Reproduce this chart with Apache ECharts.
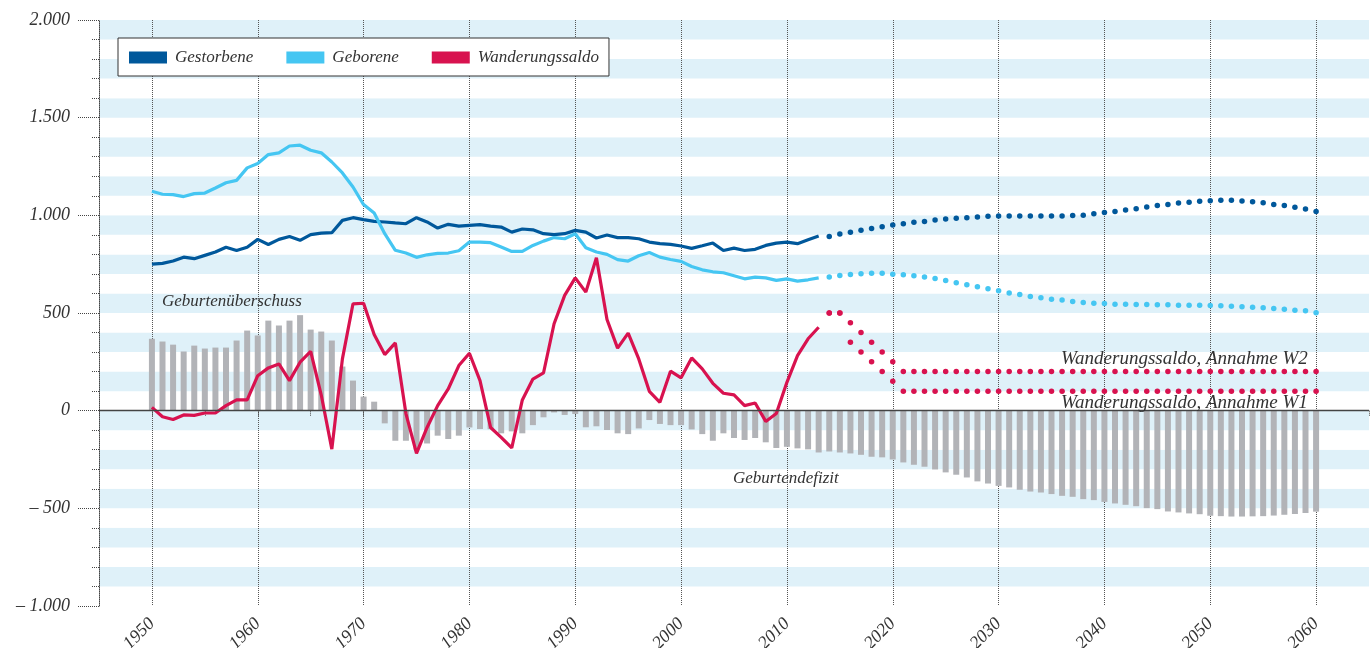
<!DOCTYPE html>
<html>
<head>
<meta charset="utf-8">
<script src="https://cdn.jsdelivr.net/npm/echarts@6/dist/echarts.min.js"></script>
<style>
  html, body { margin: 0; padding: 0; background: #fff; }
  #chart { width: 1371px; height: 648px; }
</style>
</head>
<body>
<div id="chart"></div>
<script>
// Werte in Tausend
var startHist = 1950
var startProg = 2014

var gestorbene = [
  750, 754, 766, 786, 778, 795, 812, 837, 820, 837,
  877, 851, 877, 892, 872, 901, 909, 911, 974, 988,
  978, 969, 966, 961, 957, 988, 966, 935, 954, 945,
  949, 952, 945, 940, 914, 930, 926, 906, 901, 906,
  923, 914, 884, 899, 886, 886, 880, 863, 855, 851,
  843, 831, 844, 858, 820, 832, 820, 826, 846, 858,
  863, 855, 875, 894
]
var geborene = [
  1123, 1108, 1106, 1096, 1111, 1114, 1140, 1167, 1179, 1243,
  1265, 1311, 1320, 1355, 1359, 1333, 1320, 1273, 1217, 1145,
  1055, 1012, 906, 821, 807, 785, 798, 805, 807, 819,
  863, 863, 860, 838, 815, 815, 846, 868, 886, 880,
  906, 834, 812, 800, 773, 766, 793, 810, 786, 774,
  764, 738, 721, 711, 706, 691, 675, 684, 680, 667,
  675, 663, 670, 680
]
var wanderungssaldo = [
  17, -31, -45, -22, -24, -12, -12, 26, 55, 55,
  179, 219, 239, 154, 248, 304, 80, -197, 265, 547,
  550, 390, 287, 347, -15, -219, -86, 26, 111, 231,
  294, 154, -86, -137, -191, 55, 162, 193, 445, 590,
  680, 607, 783, 467, 320, 397, 265, 99, 43, 202,
  168, 270, 214, 140, 89, 81, 26, 39, -55, -14,
  145, 282, 368, 427
]
// Geburtenüberschuss / -defizit 1950-2060
var geburtensaldo = [
  368, 354, 338, 303, 333, 318, 323, 323, 359, 410,
  385, 461, 436, 461, 489, 415, 405, 359, 226, 154,
  72, 46, -65, -154, -154, -200, -168, -128, -145, -128,
  -86, -94, -95, -116, -106, -116, -74, -34, -9, -22,
  -17, -85, -80, -99, -116, -120, -91, -48, -68, -74,
  -74, -96, -120, -154, -116, -140, -150, -140, -162, -191,
  -185, -193, -198, -214, -209, -214, -219, -226, -236, -239,
  -250, -265, -277, -287, -301, -316, -328, -342, -362, -373,
  -385, -393, -405, -414, -419, -427, -436, -441, -453, -458,
  -467, -475, -482, -489, -499, -504, -516, -521, -526, -530,
  -538, -540, -542, -542, -541, -540, -537, -533, -529, -524,
  -517
]
// Vorausberechnung 2014-2060
var gestorbeneProg = [
  892, 904, 914, 923, 933, 942,
  950, 957, 964, 969, 976, 981, 985, 988, 991, 995,
  996, 996, 996, 996, 996, 996, 997, 999, 1001, 1008,
  1014, 1020, 1027, 1034, 1043, 1050, 1056, 1063, 1067, 1072,
  1075, 1077, 1077, 1073, 1070, 1065, 1056, 1050, 1041, 1032,
  1019
]
var geboreneProg = [
  684, 692, 697, 701, 703, 703,
  699, 696, 691, 684, 677, 667, 655, 644, 634, 624,
  614, 603, 595, 585, 578, 571, 566, 559, 554, 550,
  549, 545, 545, 544, 544, 542, 542, 540, 540, 540,
  538, 537, 535, 532, 530, 527, 523, 519, 514, 511,
  501
]
var wanderungW2 = [
  500, 500, 450, 400, 350, 300,
  250, 200, 200, 200, 200, 200, 200, 200, 200, 200,
  200, 200, 200, 200, 200, 200, 200, 200, 200, 200,
  200, 200, 200, 200, 200, 200, 200, 200, 200, 200,
  200, 200, 200, 200, 200, 200, 200, 200, 200, 200,
  200
]
var wanderungW1 = [
  500, 500, 350, 300, 250, 200,
  150, 100, 100, 100, 100, 100, 100, 100, 100, 100,
  100, 100, 100, 100, 100, 100, 100, 100, 100, 100,
  100, 100, 100, 100, 100, 100, 100, 100, 100, 100,
  100, 100, 100, 100, 100, 100, 100, 100, 100, 100,
  100
]

var cDunkel = '#00589b'
var cHell = '#45c6f2'
var cRot = '#d8124f'
var fontFam = "'Liberation Serif', 'DejaVu Serif', serif"

function pairs (start, values) {
  var out = []
  for (var i = 0; i < values.length; i++) {
    out.push([start + i, values[i]])
  }
  return out
}

function yLabel (v) {
  if (v % 500 !== 0) return ''
  var a = Math.abs(v)
  var s = a >= 1000 ? Math.floor(a / 1000) + '.' + String(a % 1000).padStart(3, '0') : String(a)
  return v < 0 ? '\u2013 ' + s : s
}

function dots (name, start, values, color) {
  return {
    name: name,
    type: 'scatter',
    data: pairs(start, values),
    symbolSize: 5.5,
    itemStyle: { color: color, opacity: 1 },
    z: 4
  }
}

var myChart = echarts.init(document.getElementById('chart'))

var option = {
  animation: false,
  grid: { left: 99, right: 2, top: 20, bottom: 42, containLabel: false, outerBoundsMode: 'none' },
  legend: {
    data: ['Gestorbene', 'Geborene', 'Wanderungssaldo'],
    left: 118,
    top: 38,
    icon: 'rect',
    itemWidth: 38,
    itemHeight: 12,
    itemGap: 33,
    backgroundColor: '#fff',
    borderColor: '#333',
    borderWidth: 1,
    padding: [11, 10, 10, 11],
    textStyle: { fontFamily: fontFam, fontStyle: 'italic', fontSize: 17, color: '#333', padding: [0, 0, 0, 3] }
  },
  xAxis: {
    type: 'value',
    min: 1945,
    max: 2065,
    interval: 5,
    axisLine: { lineStyle: { color: '#444', type: [1, 1], width: 1 } },
    axisTick: { length: 5, lineStyle: { color: '#444', type: [1, 1] } },
    axisLabel: {
      rotate: 45,
      margin: 15,
      fontFamily: fontFam,
      fontStyle: 'italic',
      fontSize: 18,
      color: '#333',
      formatter: function (v) {
        return (v % 10 === 0 && v >= 1950 && v <= 2060) ? String(v) : ''
      }
    },
    splitLine: {
      show: true,
      lineStyle: { color: ['rgba(0,0,0,0)', '#555'], type: [1, 1], width: 1 }
    }
  },
  yAxis: [
    {
      type: 'value',
      min: -1000,
      max: 2000,
      interval: 100,
      axisLine: { show: true, lineStyle: { color: '#444', type: [1, 1] } },
      axisTick: { show: true, length: 8, lineStyle: { color: '#444', type: [1, 1] } },
      axisLabel: { show: false },
      splitLine: { show: false },
      splitArea: { show: true, areaStyle: { color: ['#ffffff', '#dff1f9'] } }
    },
    {
      type: 'value',
      position: 'left',
      min: -1000,
      max: 2000,
      interval: 500,
      axisLine: { show: false },
      axisTick: { show: true, length: 21, lineStyle: { color: '#444', type: [1, 1] } },
      axisLabel: {
        margin: 29,
        fontFamily: fontFam,
        fontStyle: 'italic',
        fontSize: 18,
        color: '#333',
        formatter: yLabel
      },
      splitLine: { show: false }
    }
  ],
  series: [
    {
      name: 'Geburtensaldo',
      type: 'bar',
      data: pairs(startHist, geburtensaldo),
      barWidth: 6,
      itemStyle: { color: '#b2b3b7' },
      z: 1,
      markLine: {
        silent: true,
        symbol: ['none', 'none'],
        label: { show: false },
        lineStyle: { color: '#444', width: 1.3, type: 'solid' },
        data: [{ yAxis: 0 }]
      }
    },
    {
      name: 'Gestorbene',
      type: 'line',
      data: pairs(startHist, gestorbene),
      showSymbol: false,
      color: cDunkel,
      lineStyle: { width: 3.2, color: cDunkel },
      z: 3
    },
    dots('Gestorbene Vorausberechnung', startProg, gestorbeneProg, cDunkel),
    {
      name: 'Geborene',
      type: 'line',
      data: pairs(startHist, geborene),
      showSymbol: false,
      color: cHell,
      lineStyle: { width: 3.2, color: cHell },
      z: 3
    },
    dots('Geborene Vorausberechnung', startProg, geboreneProg, cHell),
    {
      name: 'Wanderungssaldo',
      type: 'line',
      data: pairs(startHist, wanderungssaldo),
      showSymbol: false,
      color: cRot,
      lineStyle: { width: 3.2, color: cRot },
      z: 4
    },
    dots('Wanderungssaldo W2', startProg, wanderungW2, cRot),
    dots('Wanderungssaldo W1', startProg, wanderungW1, cRot)
  ],
  graphic: [
    { type: 'text', left: 162, top: 293, z: 10, style: { text: 'Geburtenüberschuss', fontFamily: fontFam, fontStyle: 'italic', fontSize: 17, fill: '#333' } },
    { type: 'text', left: 733, top: 470, z: 10, style: { text: 'Geburtendefizit', fontFamily: fontFam, fontStyle: 'italic', fontSize: 17, fill: '#333' } },
    { type: 'text', left: 1061, top: 349, z: 10, style: { text: 'Wanderungssaldo, Annahme W2', fontFamily: fontFam, fontStyle: 'italic', fontSize: 19, fill: '#333' } },
    { type: 'text', left: 1061, top: 393, z: 10, style: { text: 'Wanderungssaldo, Annahme W1', fontFamily: fontFam, fontStyle: 'italic', fontSize: 19, fill: '#333' } }
  ]
}

myChart.setOption(option)
</script>
</body>
</html>
